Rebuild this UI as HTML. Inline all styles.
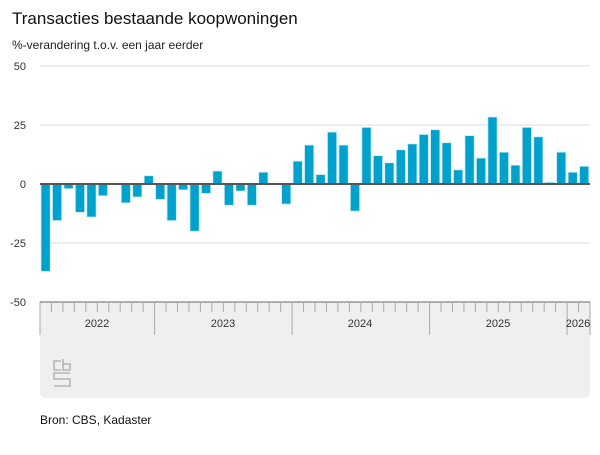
<!DOCTYPE html>
<html><head><meta charset="utf-8"><style>
body{margin:0;background:#fff;font-family:"Liberation Sans",Arial,sans-serif;}
</style></head><body>
<svg width="600" height="450" xmlns="http://www.w3.org/2000/svg" font-family="Liberation Sans, Arial, sans-serif">
<text x="12" y="24" font-size="17" fill="#111">Transacties bestaande koopwoningen</text>
<text x="12" y="49" font-size="12" fill="#222">%-verandering t.o.v. een jaar eerder</text>
<g font-size="11" fill="#333" text-anchor="end">
<text x="26" y="70">50</text><text x="26" y="129">25</text><text x="26" y="188">0</text>
<text x="26" y="247">-25</text><text x="26" y="306">-50</text>
</g>
<g stroke="#ddd" stroke-width="1">
<line x1="40" y1="66" x2="590" y2="66"/><line x1="40" y1="125" x2="590" y2="125"/>
<line x1="40" y1="243" x2="590" y2="243"/>
</g>
<path d="M40 302 H590 V392 Q590 398 584 398 H46 Q40 398 40 392 Z" fill="#efefef"/>
<line x1="40" y1="302" x2="590" y2="302" stroke="#666" stroke-width="1"/>
<g id="bars" fill="#00a1cd" stroke="#c8ecf5" stroke-width="0.8"></g>
<line x1="40" y1="184" x2="590" y2="184" stroke="#555" stroke-width="2"/>
<g id="ticks" stroke="#aaa" stroke-width="1"></g>
<g font-size="11" fill="#333" text-anchor="middle">
<text x="97" y="327">2022</text><text x="223" y="327">2023</text><text x="360" y="327">2024</text>
<text x="498" y="327">2025</text><text x="578" y="327">2026</text>
</g>
<g fill="none" stroke="#b5b5b5" stroke-width="1.6">
<path d="M61 361 H54 V370 H61"/>
<path d="M63 359 V370 H70 V364 H63"/>
<path d="M70 373 H54 V379 H70 V386 H54"/>
</g>
<text x="40" y="424" font-size="12" fill="#111">Bron: CBS, Kadaster</text>
</svg>
<script>
var v=[-37,-15.5,-2,-12,-14,-5,0,-8,-5.5,3.5,-6.5,-15.5,-2.5,-20,-4,5.5,-9,-3,-9,5,0.3,-8.5,9.7,16.5,4,22,16.5,-11.5,24,12,9,14.5,17,21,23,17.5,6,20.5,11,28.4,13.5,8,24,20,0.7,13.5,5,7.5];
var g=document.getElementById('bars'),t=document.getElementById('ticks'),ns='http://www.w3.org/2000/svg',w=550/48;
v.forEach(function(d,i){if(!d)return;var r=document.createElementNS(ns,'rect');var x=40+i*w+1,h=Math.abs(d)*2.36;
r.setAttribute('x',x);r.setAttribute('width',w-2.2);r.setAttribute('y',d>0?184-h:184);r.setAttribute('height',h);g.appendChild(r);});
for(var i=0;i<=48;i++){var x=40+i*w,big=(i==0||i==10||i==22||i==34||i==46||i==48);var l=document.createElementNS(ns,'line');
l.setAttribute('x1',x);l.setAttribute('x2',x);l.setAttribute('y1',302);l.setAttribute('y2',big?335:312);t.appendChild(l);}
</script>
</body></html>
